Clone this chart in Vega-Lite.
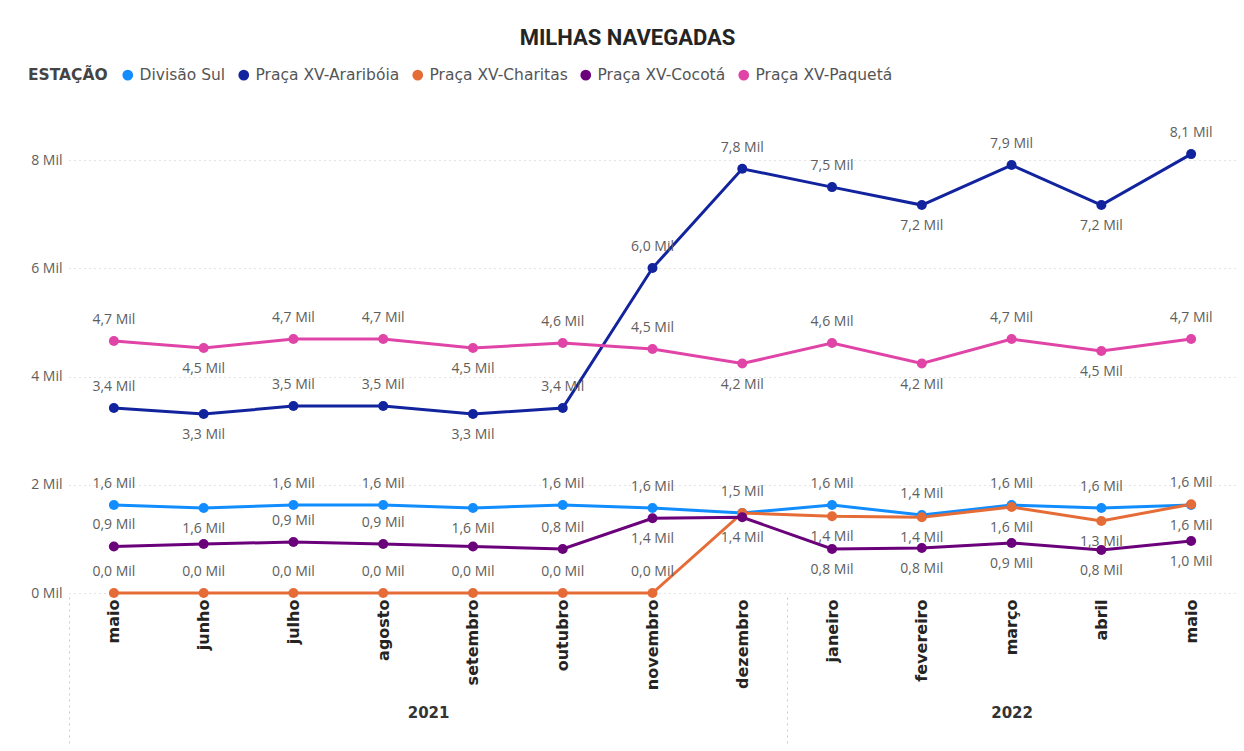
{
  "$schema": "https://vega.github.io/schema/vega-lite/v6.json",
  "width": 1167,
  "height": 487,
  "autosize": {"type": "none"},
  "padding": {"left": 69, "top": 106, "right": 8, "bottom": 158},
  "background": "white",
  "title": {"text": "MILHAS NAVEGADAS", "font": "Roboto", "fontSize": 22, "fontWeight": "bold", "color": "#252423", "anchor": "middle", "frame": "group", "dx": -25, "offset": 17},
  "data": {"values": [
    {"mes": 0, "mes_nome": "maio", "ano": 2021, "estacao": "Divisão Sul", "milhas": 1626},
    {"mes": 1, "mes_nome": "junho", "ano": 2021, "estacao": "Divisão Sul", "milhas": 1570},
    {"mes": 2, "mes_nome": "julho", "ano": 2021, "estacao": "Divisão Sul", "milhas": 1626},
    {"mes": 3, "mes_nome": "agosto", "ano": 2021, "estacao": "Divisão Sul", "milhas": 1626},
    {"mes": 4, "mes_nome": "setembro", "ano": 2021, "estacao": "Divisão Sul", "milhas": 1570},
    {"mes": 5, "mes_nome": "outubro", "ano": 2021, "estacao": "Divisão Sul", "milhas": 1626},
    {"mes": 6, "mes_nome": "novembro", "ano": 2021, "estacao": "Divisão Sul", "milhas": 1570},
    {"mes": 7, "mes_nome": "dezembro", "ano": 2021, "estacao": "Divisão Sul", "milhas": 1480},
    {"mes": 8, "mes_nome": "janeiro", "ano": 2022, "estacao": "Divisão Sul", "milhas": 1626},
    {"mes": 9, "mes_nome": "fevereiro", "ano": 2022, "estacao": "Divisão Sul", "milhas": 1440},
    {"mes": 10, "mes_nome": "março", "ano": 2022, "estacao": "Divisão Sul", "milhas": 1626},
    {"mes": 11, "mes_nome": "abril", "ano": 2022, "estacao": "Divisão Sul", "milhas": 1570},
    {"mes": 12, "mes_nome": "maio", "ano": 2022, "estacao": "Divisão Sul", "milhas": 1626},
    {"mes": 0, "mes_nome": "maio", "ano": 2021, "estacao": "Praça XV-Araribóia", "milhas": 3418},
    {"mes": 1, "mes_nome": "junho", "ano": 2021, "estacao": "Praça XV-Araribóia", "milhas": 3307},
    {"mes": 2, "mes_nome": "julho", "ano": 2021, "estacao": "Praça XV-Araribóia", "milhas": 3455},
    {"mes": 3, "mes_nome": "agosto", "ano": 2021, "estacao": "Praça XV-Araribóia", "milhas": 3455},
    {"mes": 4, "mes_nome": "setembro", "ano": 2021, "estacao": "Praça XV-Araribóia", "milhas": 3307},
    {"mes": 5, "mes_nome": "outubro", "ano": 2021, "estacao": "Praça XV-Araribóia", "milhas": 3418},
    {"mes": 6, "mes_nome": "novembro", "ano": 2021, "estacao": "Praça XV-Araribóia", "milhas": 6005},
    {"mes": 7, "mes_nome": "dezembro", "ano": 2021, "estacao": "Praça XV-Araribóia", "milhas": 7840},
    {"mes": 8, "mes_nome": "janeiro", "ano": 2022, "estacao": "Praça XV-Araribóia", "milhas": 7501},
    {"mes": 9, "mes_nome": "fevereiro", "ano": 2022, "estacao": "Praça XV-Araribóia", "milhas": 7169},
    {"mes": 10, "mes_nome": "março", "ano": 2022, "estacao": "Praça XV-Araribóia", "milhas": 7908},
    {"mes": 11, "mes_nome": "abril", "ano": 2022, "estacao": "Praça XV-Araribóia", "milhas": 7169},
    {"mes": 12, "mes_nome": "maio", "ano": 2022, "estacao": "Praça XV-Araribóia", "milhas": 8111},
    {"mes": 0, "mes_nome": "maio", "ano": 2021, "estacao": "Praça XV-Charitas", "milhas": 0},
    {"mes": 1, "mes_nome": "junho", "ano": 2021, "estacao": "Praça XV-Charitas", "milhas": 0},
    {"mes": 2, "mes_nome": "julho", "ano": 2021, "estacao": "Praça XV-Charitas", "milhas": 0},
    {"mes": 3, "mes_nome": "agosto", "ano": 2021, "estacao": "Praça XV-Charitas", "milhas": 0},
    {"mes": 4, "mes_nome": "setembro", "ano": 2021, "estacao": "Praça XV-Charitas", "milhas": 0},
    {"mes": 5, "mes_nome": "outubro", "ano": 2021, "estacao": "Praça XV-Charitas", "milhas": 0},
    {"mes": 6, "mes_nome": "novembro", "ano": 2021, "estacao": "Praça XV-Charitas", "milhas": 0},
    {"mes": 7, "mes_nome": "dezembro", "ano": 2021, "estacao": "Praça XV-Charitas", "milhas": 1480},
    {"mes": 8, "mes_nome": "janeiro", "ano": 2022, "estacao": "Praça XV-Charitas", "milhas": 1420},
    {"mes": 9, "mes_nome": "fevereiro", "ano": 2022, "estacao": "Praça XV-Charitas", "milhas": 1400},
    {"mes": 10, "mes_nome": "março", "ano": 2022, "estacao": "Praça XV-Charitas", "milhas": 1589},
    {"mes": 11, "mes_nome": "abril", "ano": 2022, "estacao": "Praça XV-Charitas", "milhas": 1330},
    {"mes": 12, "mes_nome": "maio", "ano": 2022, "estacao": "Praça XV-Charitas", "milhas": 1640},
    {"mes": 0, "mes_nome": "maio", "ano": 2021, "estacao": "Praça XV-Cocotá", "milhas": 860},
    {"mes": 1, "mes_nome": "junho", "ano": 2021, "estacao": "Praça XV-Cocotá", "milhas": 905},
    {"mes": 2, "mes_nome": "julho", "ano": 2021, "estacao": "Praça XV-Cocotá", "milhas": 942},
    {"mes": 3, "mes_nome": "agosto", "ano": 2021, "estacao": "Praça XV-Cocotá", "milhas": 905},
    {"mes": 4, "mes_nome": "setembro", "ano": 2021, "estacao": "Praça XV-Cocotá", "milhas": 860},
    {"mes": 5, "mes_nome": "outubro", "ano": 2021, "estacao": "Praça XV-Cocotá", "milhas": 813},
    {"mes": 6, "mes_nome": "novembro", "ano": 2021, "estacao": "Praça XV-Cocotá", "milhas": 1380},
    {"mes": 7, "mes_nome": "dezembro", "ano": 2021, "estacao": "Praça XV-Cocotá", "milhas": 1400},
    {"mes": 8, "mes_nome": "janeiro", "ano": 2022, "estacao": "Praça XV-Cocotá", "milhas": 813},
    {"mes": 9, "mes_nome": "fevereiro", "ano": 2022, "estacao": "Praça XV-Cocotá", "milhas": 831},
    {"mes": 10, "mes_nome": "março", "ano": 2022, "estacao": "Praça XV-Cocotá", "milhas": 924},
    {"mes": 11, "mes_nome": "abril", "ano": 2022, "estacao": "Praça XV-Cocotá", "milhas": 794},
    {"mes": 12, "mes_nome": "maio", "ano": 2022, "estacao": "Praça XV-Cocotá", "milhas": 961},
    {"mes": 0, "mes_nome": "maio", "ano": 2021, "estacao": "Praça XV-Paquetá", "milhas": 4656},
    {"mes": 1, "mes_nome": "junho", "ano": 2021, "estacao": "Praça XV-Paquetá", "milhas": 4527},
    {"mes": 2, "mes_nome": "julho", "ano": 2021, "estacao": "Praça XV-Paquetá", "milhas": 4693},
    {"mes": 3, "mes_nome": "agosto", "ano": 2021, "estacao": "Praça XV-Paquetá", "milhas": 4693},
    {"mes": 4, "mes_nome": "setembro", "ano": 2021, "estacao": "Praça XV-Paquetá", "milhas": 4527},
    {"mes": 5, "mes_nome": "outubro", "ano": 2021, "estacao": "Praça XV-Paquetá", "milhas": 4619},
    {"mes": 6, "mes_nome": "novembro", "ano": 2021, "estacao": "Praça XV-Paquetá", "milhas": 4508},
    {"mes": 7, "mes_nome": "dezembro", "ano": 2021, "estacao": "Praça XV-Paquetá", "milhas": 4240},
    {"mes": 8, "mes_nome": "janeiro", "ano": 2022, "estacao": "Praça XV-Paquetá", "milhas": 4619},
    {"mes": 9, "mes_nome": "fevereiro", "ano": 2022, "estacao": "Praça XV-Paquetá", "milhas": 4240},
    {"mes": 10, "mes_nome": "março", "ano": 2022, "estacao": "Praça XV-Paquetá", "milhas": 4693},
    {"mes": 11, "mes_nome": "abril", "ano": 2022, "estacao": "Praça XV-Paquetá", "milhas": 4471},
    {"mes": 12, "mes_nome": "maio", "ano": 2022, "estacao": "Praça XV-Paquetá", "milhas": 4693}
  ]},
  "transform": [
    {"window": [{"op": "lag", "field": "milhas", "as": "prev"}, {"op": "lead", "field": "milhas", "as": "next"}], "groupby": ["estacao"], "sort": [{"field": "mes", "order": "ascending"}]},
    {"window": [{"op": "lag", "field": "milhas", "as": "inferior"}, {"op": "lead", "field": "milhas", "as": "superior"}], "groupby": ["mes"], "sort": [{"field": "milhas", "order": "ascending"}, {"field": "estacao", "order": "ascending"}]},
    {"calculate": "(datum.prev == null || datum.milhas < datum.prev) && (datum.next == null || datum.milhas < datum.next) && (datum.inferior == null || (datum.inferior > 0 && datum.milhas - datum.inferior > 500))", "as": "abaixo1"},
    {"calculate": "!datum.abaixo1 && datum.superior != null && datum.superior - datum.milhas < 400 && (datum.inferior == null || datum.milhas - datum.inferior > 600)", "as": "abaixo2"},
    {"calculate": "datum.abaixo1 || datum.abaixo2", "as": "abaixo"},
    {"window": [{"op": "lead", "field": "abaixo", "as": "sup_abaixo"}], "groupby": ["mes"], "sort": [{"field": "milhas", "order": "ascending"}, {"field": "estacao", "order": "ascending"}]},
    {"calculate": "!datum.abaixo && datum.superior != null && datum.sup_abaixo == true && datum.superior - datum.milhas < 900", "as": "conflito"},
    {"calculate": "!datum.abaixo && datum.superior != null && datum.sup_abaixo != true && datum.superior - datum.milhas < 150", "as": "duplicado"},
    {"calculate": "datum.abaixo || (datum.conflito && datum.inferior == null)", "as": "rotulo_abaixo"},
    {"calculate": "(datum.conflito && datum.inferior != null) || datum.duplicado", "as": "oculto"},
    {"calculate": "replace(format(datum.milhas / 1000, '.1f'), '.', ',') + ' Mil'", "as": "rotulo"}
  ],
  "encoding": {
    "y": {"field": "milhas", "type": "quantitative", "scale": {"domain": [0, 9000], "nice": false},
      "axis": {"title": null, "values": [0, 2000, 4000, 6000, 8000], "labelExpr": "(datum.value / 1000) + ' Mil'", "domain": false, "ticks": false, "grid": true, "gridColor": "#c8c8c8", "gridDash": [1, 4], "gridWidth": 1, "labelColor": "#605E5C", "labelFont": "Open Sans", "labelFontSize": 14, "labelPadding": 7}}
  },
  "layer": [
    {
      "mark": {"type": "line", "strokeWidth": 3},
      "encoding": {
        "x": {"field": "mes", "type": "quantitative", "scale": {"domain": [-0.5, 12.5], "nice": false, "zero": false},
          "axis": {"title": null, "values": [0,1,2,3,4,5,6,7,8,9,10,11,12], "labelExpr": "['maio','junho','julho','agosto','setembro','outubro','novembro','dezembro','janeiro','fevereiro','março','abril','maio'][datum.value]", "labelAngle": 270, "labelFont": "DejaVu Sans", "labelFontWeight": "bold", "labelFontSize": 16, "labelColor": "#252423", "labelPadding": 6, "domain": false, "ticks": false, "grid": false, "orient": "bottom"}},
        "color": {"field": "estacao", "type": "nominal",
          "scale": {"domain": ["Divisão Sul", "Praça XV-Araribóia", "Praça XV-Charitas", "Praça XV-Cocotá", "Praça XV-Paquetá"], "range": ["#118DFF", "#12239E", "#E66C37", "#6B007B", "#E044A7"]},
          "legend": {"title": "ESTAÇÃO", "orient": "none", "legendX": -41, "legendY": -39, "direction": "horizontal", "titleOrient": "left", "titleFont": "DejaVu Sans", "titleFontWeight": "bold", "titleFontSize": 15.5, "titleColor": "#444444", "titlePadding": 12, "labelFont": "DejaVu Sans", "labelFontSize": 15.5, "labelColor": "#555555", "labelOffset": 4, "columnPadding": 10, "symbolType": "circle", "symbolSize": 115, "symbolStrokeWidth": 0,
            "encode": {"symbols": {"update": {"fill": {"scale": "color", "field": "value"}, "fillOpacity": {"value": 1}}}}}}
      }
    },
    {
      "mark": {"type": "point", "filled": true, "size": 100, "opacity": 1},
      "encoding": {
        "x": {"field": "mes", "type": "quantitative", "scale": {"domain": [-0.5, 12.5], "nice": false, "zero": false},
          "axis": {"title": null, "orient": "bottom", "offset": 108, "values": [3.5, 10], "labelExpr": "datum.value < 7.5 ? '2021' : '2022'", "labelFont": "DejaVu Sans", "labelFontSize": 15, "labelFontWeight": "bold", "labelColor": "#333333", "labelPadding": 4, "labelAngle": 0, "domain": false, "ticks": false, "grid": false}},
        "color": {"field": "estacao", "type": "nominal"}
      }
    },
    {
      "transform": [{"filter": "!datum.oculto && !datum.rotulo_abaixo"}],
      "mark": {"type": "text", "baseline": "bottom", "dy": -14, "font": "Open Sans", "fontSize": 14, "color": "#605E5C"},
      "encoding": {
        "x": {"field": "mes", "type": "quantitative", "scale": {"domain": [-0.5, 12.5], "nice": false, "zero": false},
          "axis": {"title": null, "orient": "bottom", "offset": 4, "values": [-0.5, 7.5], "labels": false, "domain": false, "grid": false, "ticks": true, "tickSize": 147, "tickDash": [2, 4], "tickColor": "#c8c8c8", "tickWidth": 1}},
        "text": {"field": "rotulo"}
      }
    },
    {
      "transform": [{"filter": "!datum.oculto && datum.rotulo_abaixo"}],
      "mark": {"type": "text", "baseline": "top", "dy": 14, "font": "Open Sans", "fontSize": 14, "color": "#605E5C"},
      "encoding": {
        "x": {"field": "mes", "type": "quantitative", "scale": {"domain": [-0.5, 12.5], "nice": false, "zero": false}, "axis": null},
        "text": {"field": "rotulo"}
      }
    }
  ],
  "resolve": {"scale": {"x": "independent"}},
  "config": {"view": {"stroke": null}}
}
